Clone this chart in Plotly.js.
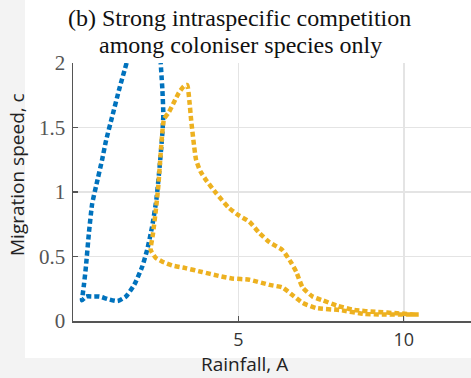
<!DOCTYPE html>
<html>
<head>
<meta charset="utf-8">
<script src="https://cdn.plot.ly/plotly-3.0.1.min.js"></script>
<style>
  html, body { margin: 0; padding: 0; background: #f3f3f3; }
  #chart { width: 471px; height: 378px; }
</style>
</head>
<body>
<div id="chart"></div>
<script>
// Migration-speed contours against rainfall
const blueRainfall = [1.62, 1.4, 1.18, 1.0, 0.88, 0.71, 0.58, 0.48, 0.39, 0.33, 0.29, 0.27, 0.4, 0.6, 0.8, 1.05, 1.35, 1.6, 1.85, 2.09, 2.24, 2.39, 2.52, 2.62, 2.7, 2.73, 2.7, 2.65];
const blueSpeed    = [2.0, 1.8, 1.58, 1.4, 1.25, 1.06, 0.91, 0.68, 0.42, 0.28, 0.2, 0.16, 0.19, 0.19, 0.19, 0.17, 0.155, 0.19, 0.28, 0.42, 0.55, 0.73, 0.94, 1.2, 1.45, 1.6, 1.8, 2.0];

const orangeRainfall = [10.45, 10.0, 9.4, 8.8, 8.06, 7.36, 6.94, 6.64, 6.33, 5.94, 5.33, 4.8, 4.4, 3.9, 3.4, 3.0, 2.7, 2.5, 2.35, 2.42, 2.5, 2.58, 2.65, 2.72, 2.76, 2.9, 3.06, 3.2, 3.35, 3.45, 3.52, 3.57, 3.64, 3.72, 3.85, 4.0, 4.33, 4.7, 5.0, 5.33, 5.64, 5.94, 6.33, 6.6, 6.75, 6.94, 7.24, 7.55, 7.97, 8.5, 9.2, 9.8, 10.35];
const orangeSpeed    = [0.05, 0.05, 0.05, 0.055, 0.085, 0.10, 0.14, 0.2, 0.26, 0.28, 0.32, 0.33, 0.35, 0.38, 0.41, 0.43, 0.46, 0.49, 0.55, 0.68, 0.85, 1.05, 1.3, 1.52, 1.57, 1.62, 1.7, 1.77, 1.82, 1.83, 1.7, 1.56, 1.4, 1.25, 1.16, 1.1, 0.99, 0.88, 0.82, 0.77, 0.68, 0.61, 0.55, 0.45, 0.38, 0.26, 0.19, 0.16, 0.12, 0.085, 0.07, 0.06, 0.05];

const xTicks = [5, 10];
const yTicks = [0, 0.5, 1, 1.5, 2];
const yTickText = ['0', '0.5', '1', '1.5', '2'];
const titleLines = ['(b) Strong intraspecific competition', 'among coloniser species only'];

const dotted = '5px,3px';
const serif = 'Liberation Serif, Times New Roman, serif';
const sans = 'Open Sans, sans-serif';

const traces = [
  {
    x: blueRainfall, y: blueSpeed, type: 'scatter', mode: 'lines',
    line: { color: '#0072BD', width: 4.5, dash: dotted, shape: 'spline', smoothing: 0.5 },
    hoverinfo: 'skip'
  },
  {
    x: orangeRainfall, y: orangeSpeed, type: 'scatter', mode: 'lines',
    line: { color: '#EDB120', width: 4.5, dash: dotted, shape: 'spline', smoothing: 0.5 },
    hoverinfo: 'skip'
  }
];

const L = 73, R = 471, T = 63, B = 321;
const pw = R - L, ph = B - T;
const px = v => (v - L) / pw;
const py = v => (B - v) / ph;

const layout = {
  width: 471, height: 378,
  margin: { l: L, r: 0, t: T, b: 378 - B, pad: 0 },
  paper_bgcolor: '#f3f3f3',
  plot_bgcolor: '#ffffff',
  showlegend: false,
  xaxis: {
    range: [0, 12.03], tickvals: xTicks, ticktext: xTicks.map(String),
    ticks: 'inside', ticklen: 5, tickwidth: 1.2, tickcolor: '#555',
    showline: true, linecolor: '#555', linewidth: 1.5,
    showgrid: true, gridcolor: '#e4e4e4', gridwidth: 1.5, zeroline: false,
    tickfont: { family: sans, size: 18, color: '#333' },
    ticklabelstandoff: 2,
    fixedrange: true
  },
  yaxis: {
    range: [0, 2], tickvals: yTicks, ticktext: yTickText,
    ticks: 'inside', ticklen: 5, tickwidth: 1.2, tickcolor: '#555',
    showline: true, linecolor: '#555', linewidth: 1.5,
    showgrid: true, gridcolor: '#e4e4e4', gridwidth: 1.5, zeroline: false,
    tickfont: { family: serif, size: 21, color: '#555' },
    ticklabelstandoff: 2,
    fixedrange: true
  },
  shapes: [
    {
      type: 'rect', xref: 'paper', yref: 'paper', layer: 'below',
      x0: px(25), x1: 1.05, y0: py(358), y1: py(-2),
      fillcolor: '#ffffff', line: { width: 0 }
    }
  ],
  annotations: [
    {
      text: titleLines[0], showarrow: false,
      xref: 'paper', yref: 'paper', x: px(239), y: py(18),
      xanchor: 'center', yanchor: 'middle',
      font: { family: serif, size: 24, color: '#111' }
    },
    {
      text: titleLines[1], showarrow: false,
      xref: 'paper', yref: 'paper', x: px(240), y: py(45),
      xanchor: 'center', yanchor: 'middle',
      font: { family: serif, size: 24, color: '#111' }
    },
    {
      text: 'Rainfall, A', showarrow: false, borderpad: 0,
      xref: 'paper', yref: 'paper', x: px(244), y: py(378),
      xanchor: 'center', yanchor: 'bottom',
      font: { family: sans, size: 19, color: '#222' }
    },
    {
      text: 'Migration speed, c', showarrow: false, textangle: -90,
      xref: 'paper', yref: 'paper', x: px(17), y: py(175),
      xanchor: 'center', yanchor: 'middle',
      font: { family: sans, size: 19, color: '#222' }
    }
  ]
};

Plotly.newPlot('chart', traces, layout, { staticPlot: true, displayModeBar: false });
</script>
</body>
</html>
